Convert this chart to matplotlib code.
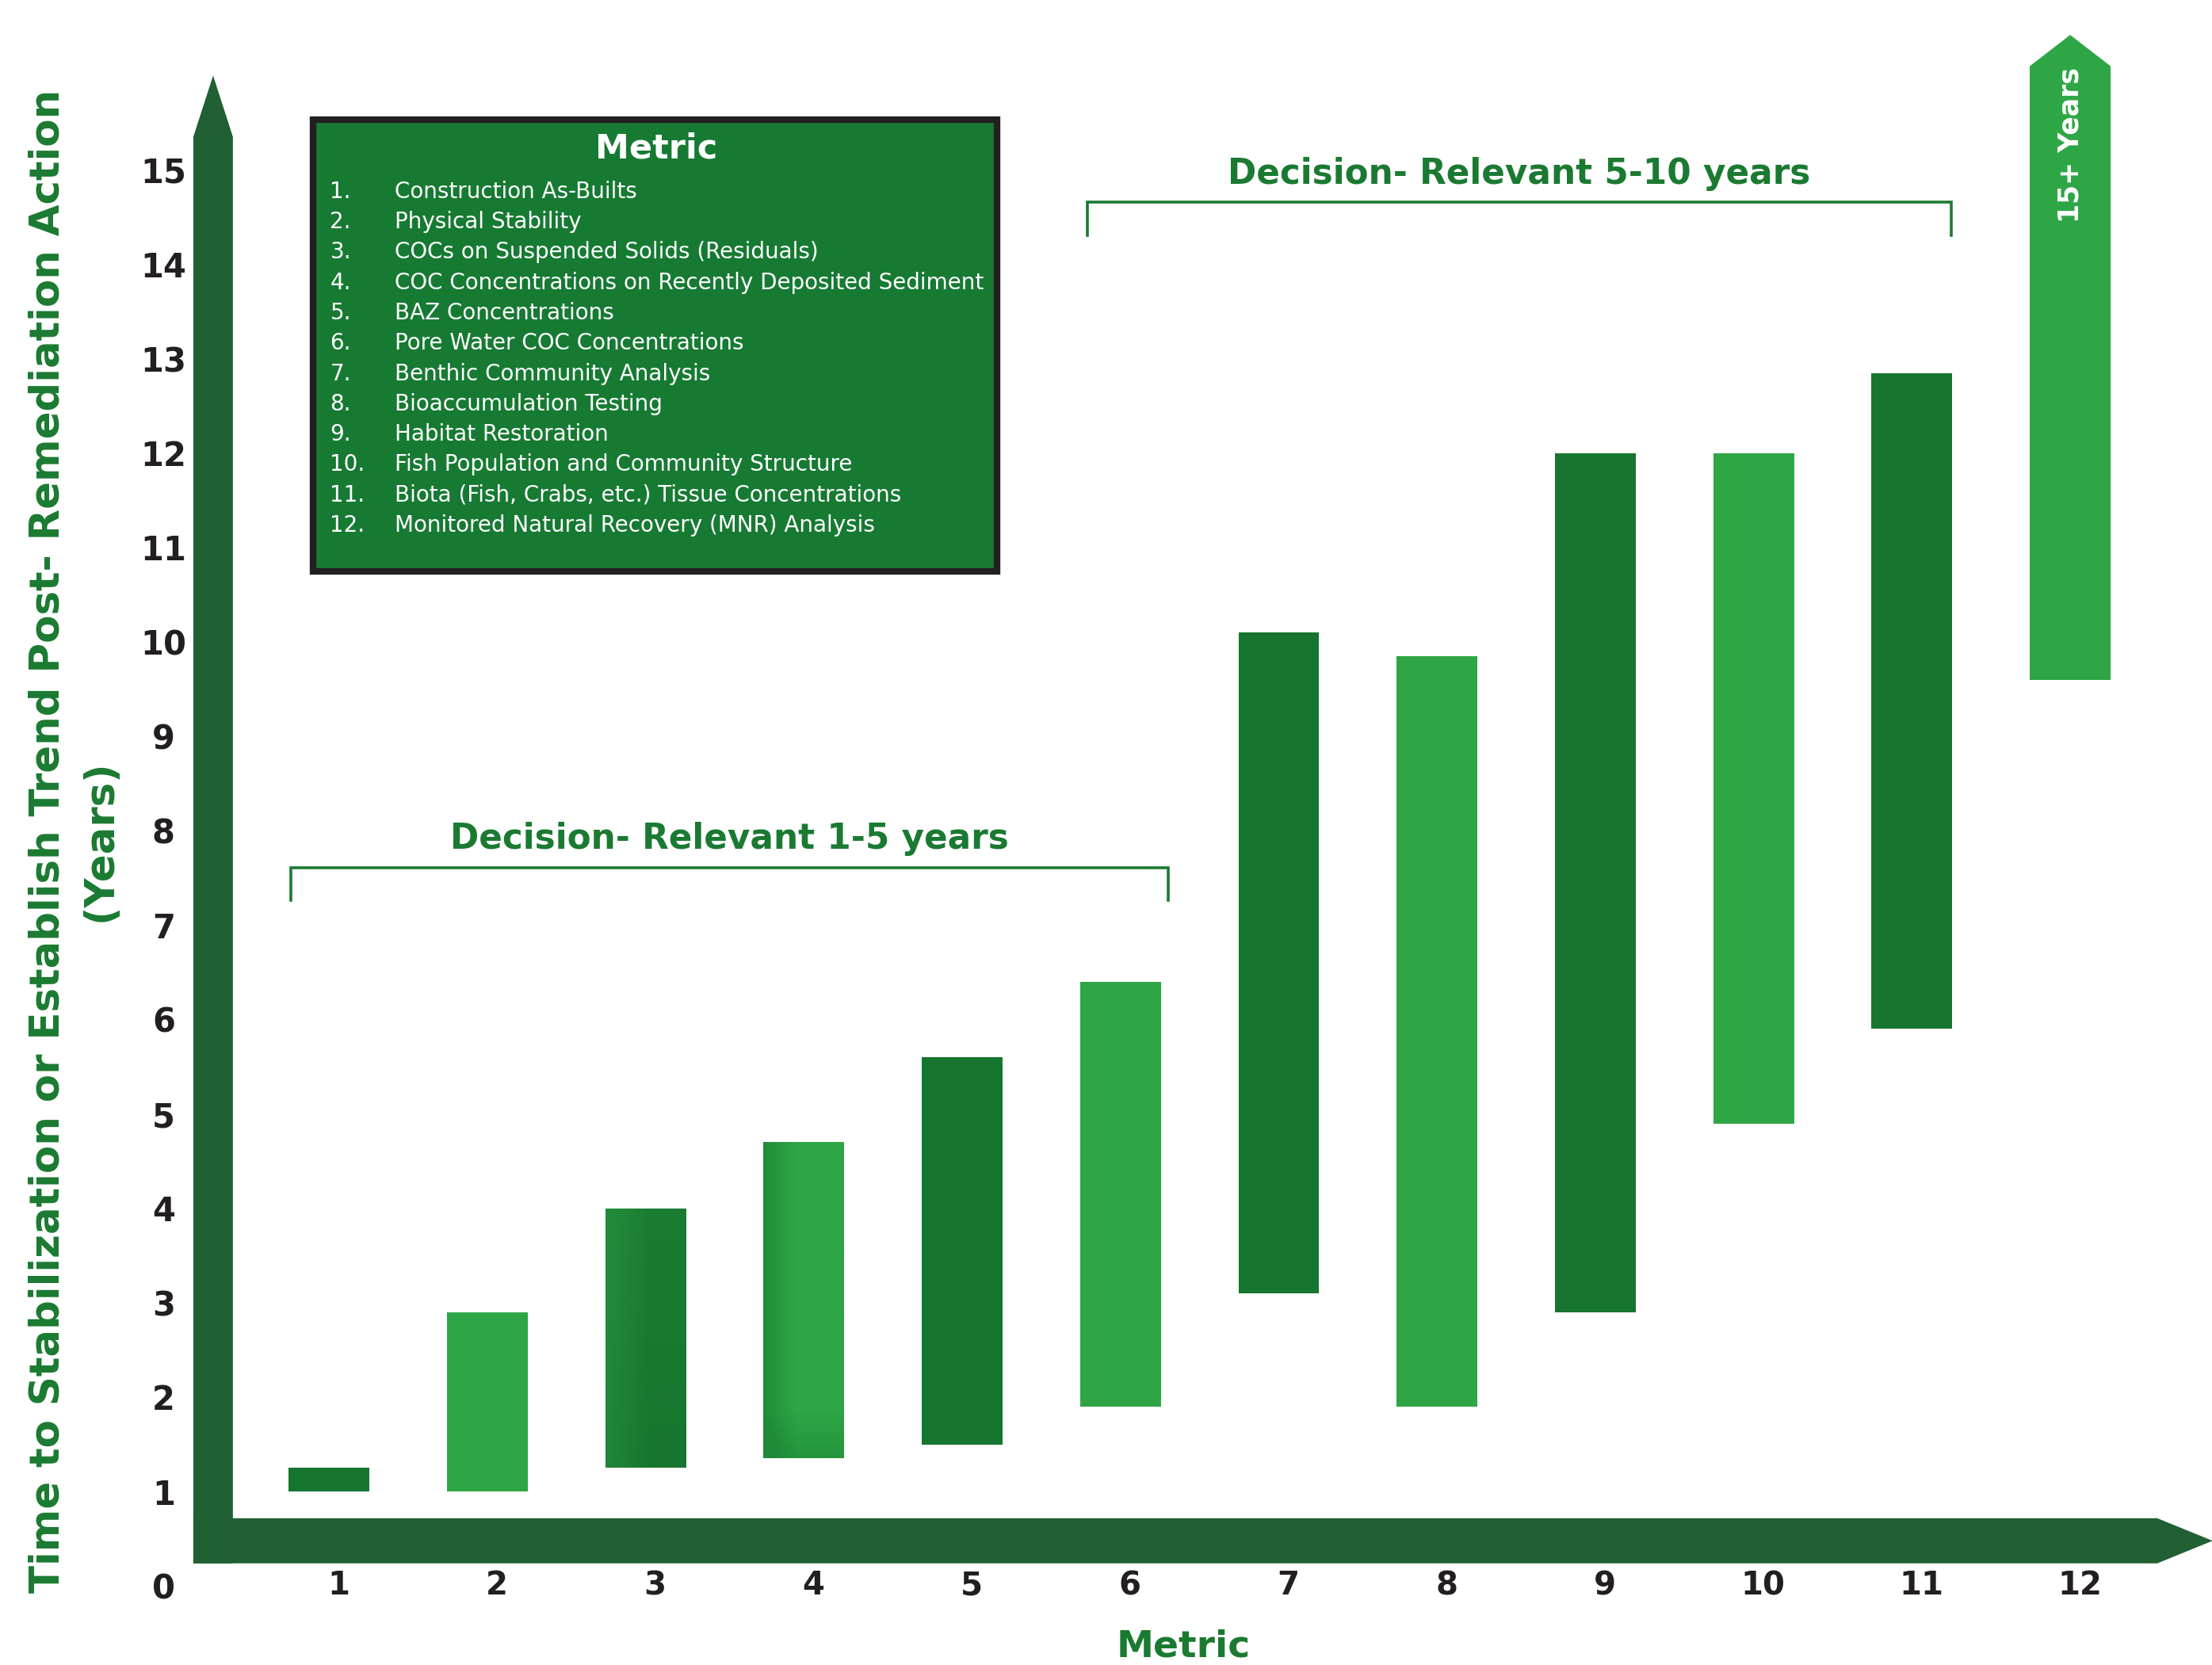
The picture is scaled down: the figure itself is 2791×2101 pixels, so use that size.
import matplotlib
matplotlib.use("Agg")
import matplotlib.pyplot as plt
import matplotlib.transforms as mtransforms
from matplotlib.colors import to_rgb
from matplotlib.patches import Polygon, Rectangle
import numpy as np

plt.rcParams["font.family"] = "DejaVu Sans"

# metric index, short names and the time window (years) for each metric
metrics = list(range(1, 13))
metric_names = [
    "Construction As-Builts",
    "Physical Stability",
    "COCs on Suspended Solids (Residuals)",
    "COC Concentrations on Recently Deposited Sediment",
    "BAZ Concentrations",
    "Pore Water COC Concentrations",
    "Benthic Community Analysis",
    "Bioaccumulation Testing",
    "Habitat Restoration",
    "Fish Population and Community Structure",
    "Biota (Fish, Crabs, etc.) Tissue Concentrations",
    "Monitored Natural Recovery (MNR) Analysis",
]
years_low = [1.0, 1.0, 1.25, 1.35, 1.5, 1.9, 3.1, 1.9, 2.9, 4.9, 5.9, 9.6]
years_high = [1.25, 2.9, 4.0, 4.7, 5.6, 6.4, 10.1, 9.85, 12.0, 12.0, 12.85, 16.1]
y_ticks = list(range(16))

# decision-relevant windows: (label, left edge, right edge, height)
windows = [
    ("Decision- Relevant 1-5 years", 0.76, 6.30, 7.61),
    ("Decision- Relevant 5-10 years", 5.79, 11.25, 14.66),
]

DARK = "#16762f"
LIGHT = "#2ea645"
AXIS_GREEN = "#206032"
TEXT_GREEN = "#1b7a31"
BOX_GREEN = "#177a33"
INK = "#231f20"

fig = plt.figure(figsize=(27.91, 21.01), dpi=100)
ax = fig.add_axes([0.0879, 0.0475, 0.9124, 0.9525])
for s in ax.spines.values():
    s.set_visible(False)

# thick arrow-shaped axes
ax.add_patch(Polygon([(0.143, 0.239), (0.393, 0.239), (0.393, 15.35),
                      (0.268, 16.0), (0.143, 15.35)],
                     closed=True, color=AXIS_GREEN, lw=0, clip_on=False, zorder=1))
ax.add_patch(Polygon([(0.143, 0.239), (12.55, 0.239), (12.9, 0.478),
                      (12.55, 0.717), (0.143, 0.717)],
                     closed=True, color=AXIS_GREEN, lw=0, clip_on=False, zorder=1))

# floating bars, alternating dark / light green
colors = [DARK if m % 2 else LIGHT for m in metrics]
heights = [h - l for l, h in zip(years_low, years_high)]
bar_w = 0.51
bars = ax.bar(metrics, heights, bottom=years_low, width=bar_w, color=colors, zorder=2)


def shade_bar(patch, base, tint, weight):
    # soft gradient fill clipped to the bar rectangle
    u, v = np.meshgrid(np.linspace(0, 1, 60), np.linspace(1, 0, 200))
    t = np.clip(weight(u, v), 0, 1)[..., None]
    img = np.array(to_rgb(base)) + t * (np.array(to_rgb(tint)) - np.array(to_rgb(base)))
    x0, y0 = patch.get_x(), patch.get_y()
    im = ax.imshow(img, extent=[x0, x0 + patch.get_width(), y0, y0 + patch.get_height()],
                   aspect="auto", interpolation="bilinear", zorder=2.1)
    im.set_clip_path(patch)


shade_bar(bars[2], DARK, "#22893b",
          lambda u, v: 0.85 * np.clip(1 - u / 0.55, 0, 1) + 0.35 * v)
shade_bar(bars[3], LIGHT, "#1f8a37",
          lambda u, v: 0.9 * np.clip(1 - u / 0.4, 0, 1) + 0.6 * np.clip((0.15 - v) / 0.15, 0, 1))

# last metric is open-ended: arrow head on top
x12, top12 = metrics[-1], years_high[-1]
ax.add_patch(Polygon([(x12 - bar_w / 2, top12), (x12, top12 + 0.33),
                      (x12 + bar_w / 2, top12)],
                     closed=True, color=colors[-1], lw=0, clip_on=False, zorder=2))
ax.text(x12, 15.26, "15+ Years", rotation=90, ha="center", va="center",
        color="white", fontsize=25, fontweight="bold", zorder=3)

# brackets for the decision windows
for label, x0, x1, yb in windows:
    ax.plot([x0, x0, x1, x1], [yb - 0.35, yb, yb, yb - 0.35],
            color=TEXT_GREEN, lw=2.6, solid_joinstyle="miter", zorder=2)
    ax.text((x0 + x1) / 2, yb + 0.30, label, ha="center", va="center",
            color=TEXT_GREEN, fontsize=31.5, fontweight="bold")

# metric key box
ax.add_patch(Rectangle((0.90, 10.75), 4.32, 4.78, facecolor=BOX_GREEN,
                       edgecolor=INK, lw=6, zorder=3))
ax.text(3.066, 15.23, "Metric", ha="center", va="center", color="white",
        fontsize=31, fontweight="bold", zorder=4)
for k, (m, name) in enumerate(zip(metrics, metric_names)):
    yk = 14.77 - k * 0.3214
    ax.text(1.007, yk, f"{m}.", ha="left", va="center", color="white",
            fontsize=20, zorder=4)
    ax.text(1.417, yk, name, ha="left", va="center", color="white",
            fontsize=20, zorder=4)

ax.set_xlim(0.15, 12.9)
ax.set_ylim(0, 16.8)

# ticks
ax.set_xticks(metrics, [str(m) for m in metrics])
ax.set_yticks(y_ticks, [str(v) for v in y_ticks])
ax.tick_params(length=0, labelcolor=INK)
ax.tick_params(axis="x", pad=0, labelsize=29)
ax.tick_params(axis="y", pad=28, labelsize=30)
shift = mtransforms.ScaledTranslation(0.12, 0, fig.dpi_scale_trans)
for lbl in ax.get_xticklabels():
    lbl.set_va("center")
    lbl.set_fontweight("bold")
    lbl.set_transform(lbl.get_transform() + shift)
for lbl in ax.get_yticklabels():
    lbl.set_ha("center")
    lbl.set_fontweight("bold")

# axis titles
ax.text(6.40, -0.643, "Metric", ha="center", va="center", color=TEXT_GREEN,
        fontsize=34, fontweight="bold")
fig.text(0.0335, 0.4949,
         "Time to Stabilization or Establish Trend Post- Remediation Action\n(Years)",
         rotation=90, ha="center", va="center", multialignment="center",
         color=TEXT_GREEN, fontsize=37, fontweight="bold", linespacing=1.4)

fig.savefig("out.png", dpi=100)
